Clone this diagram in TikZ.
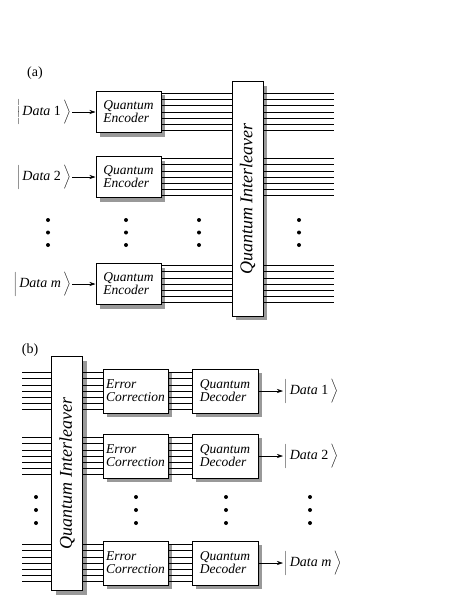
\documentclass[tikz,border=0pt]{standalone}
\usepackage{fontspec}
\setmainfont{Liberation Serif}
\usepackage{graphicx}
\usepackage{tikz}
\usetikzlibrary{arrows.meta}
\usetikzlibrary{shadows}
\usetikzlibrary{positioning}

\tikzset{
  blk/.style={draw, line width=1pt, fill=white, minimum width=65pt, minimum height=41pt,
    align=left, inner sep=3pt, font=\fontsize{13.5}{13}\selectfont\itshape,
    drop shadow={shadow xshift=4pt, shadow yshift=-4pt, fill=black!40, opacity=1}},
  ilvbox/.style={blk, minimum width=31pt, minimum height=234pt,
    font=\fontsize{18}{18}\selectfont\itshape, inner sep=0pt},
  wire/.style={line width=0.6pt},
  ket/.style={font=\fontsize{14}{14}\selectfont, inner sep=1pt},
  dotmark/.style={circle, fill, inner sep=0pt, minimum size=4pt},
  feed/.style={line width=0.6pt, -{Stealth[length=6pt,width=4pt]}},
  tag/.style={font=\fontsize{14}{14}\selectfont}
}

\begin{document}
\begin{tikzpicture}[x=1pt, y=-1pt]
  \useasboundingbox (0,0) rectangle (463,599);

  % (a) encoding side
  \node[tag] (taga) at (35,73) {(a)};
  \node[ilvbox] (ilva) at (247.5,199) {\rotatebox{90}{Quantum Interleaver}};
  \foreach \n/\y/\lbl in {1/112/{\textit{Data}~1}, 2/177/{\textit{Data}~2}, m/284/{\textit{Data~m}}} {
    \node[blk] (enc\n) at (128.5,\y) {Quantum\\Encoder};
    \node[ket, anchor=east] (ina\n) at (72,\y) {$\biggl|$\,\lbl\,$\biggr\rangle$};
    \coordinate (outa\n) at (334,\y);
    \draw[feed] (ina\n.east) -- (enc\n.west);
    \foreach \k in {-3,...,3} {
      \draw[wire] ([yshift=\k*6.2pt]enc\n.east) -- ([yshift=\k*6.2pt]enc\n.east -| ilva.west);
      \draw[wire] ([yshift=\k*6.2pt]outa\n -| ilva.east) -- ([yshift=\k*6.2pt]outa\n);
    }
  }
  \foreach \x in {48, 126, 199, 299} {
    \foreach \y in {220, 232.5, 245} {
      \node[dotmark] at (\x,\y) {};
    }
  }

  % (b) decoding side
  \node[tag] (tagb) at (30,350) {(b)};
  \node[ilvbox] (ilvb) at (67,473.5) {\rotatebox{90}{Quantum Interleaver}};
  \foreach \n/\y/\lbl in {1/391/{\textit{Data}~1}, 2/456/{\textit{Data}~2}, m/563/{\textit{Data~m}}} {
    \node[blk, minimum height=44pt] (ec\n) at (135.5,\y) {Error\\Correction};
    \node[blk, minimum height=44pt, minimum width=66pt] (dec\n) at (225,\y) {Quantum\\Decoder};
    \node[ket, anchor=west] (outb\n) at (283,\y) {$\biggl|$\,\lbl\,$\biggr\rangle$};
    \coordinate (inb\n) at (22,\y);
    \draw[feed] (dec\n.east) -- (outb\n.west);
    \foreach \k in {-3,...,3} {
      \draw[wire] ([yshift=\k*6.2pt]inb\n) -- ([yshift=\k*6.2pt]inb\n -| ilvb.west);
      \draw[wire] ([yshift=\k*6.2pt]ec\n.west -| ilvb.east) -- ([yshift=\k*6.2pt]ec\n.west);
      \draw[wire] ([yshift=\k*6.2pt]ec\n.east) -- ([yshift=\k*6.2pt]dec\n.west);
    }
  }
  \foreach \x in {36, 136, 226, 310} {
    \foreach \y in {497, 510, 523} {
      \node[dotmark] at (\x,\y) {};
    }
  }
\end{tikzpicture}
\end{document}
